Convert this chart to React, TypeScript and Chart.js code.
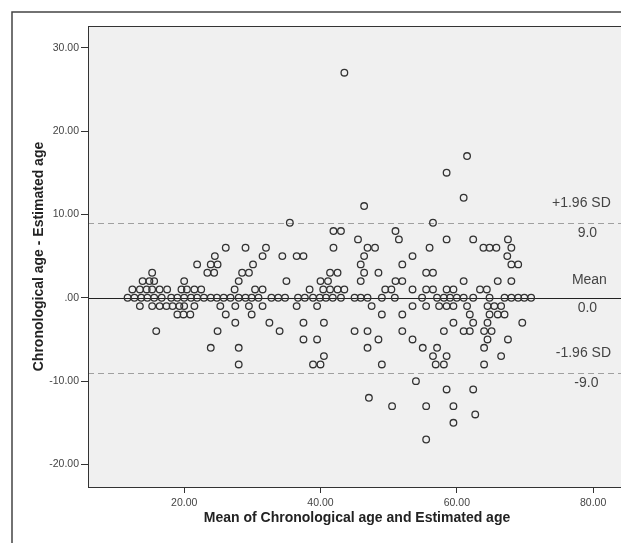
import React, { useEffect, useRef } from "react";
import { Chart, registerables } from "chart.js";

Chart.register(...registerables);

// ---- Data ----
const xTickValues = [20, 40, 60, 80];
const yTickValues = [-20, -10, 0, 10, 20, 30];

const meanDifference = 0.0;
const upperLimit = 9.0;
const lowerLimit = -9.0;

// Difference levels (Chronological age - Estimated age)
const diffLevels = [27, 17, 15, 12, 11, 9, 8, 7, 6, 5, 4, 3, 2, 1, 0, -1, -2, -3, -4, -5, -6, -7, -8, -10, -11, -12, -13, -14, -15, -17];

// Mean of chronological and estimated age, one list per difference level
const meansAt27 = [43.5];
const meansAt17 = [61.5];
const meansAt15 = [58.5];
const meansAt12 = [61.0];
const meansAt11 = [46.4];
const meansAt9 = [35.5, 56.5];
const meansAt8 = [41.9, 43.0, 51.0];
const meansAt7 = [45.5, 51.5, 58.5, 62.4, 67.5];
const meansAt6 = [26.1, 29.0, 32.0, 41.9, 46.9, 48.0, 56.0, 63.9, 64.8, 65.8, 68.0];
const meansAt5 = [24.5, 31.5, 34.4, 36.5, 37.5, 46.4, 53.5, 67.4];
const meansAt4 = [21.9, 23.9, 24.9, 30.1, 45.9, 52.0, 68.0, 69.0];
const meansAt3 = [15.3, 23.4, 24.4, 28.5, 29.5, 41.4, 42.5, 46.4, 48.5, 55.5, 56.5];
const meansAt2 = [13.9, 14.9, 15.6, 20.0, 28.0, 35.0, 40.0, 41.1, 45.9, 51.0, 52.0, 61.0, 66.0, 68.0];
const meansAt1 = [12.4, 13.5, 14.5, 15.3, 16.4, 17.5, 19.6, 20.4, 21.5, 22.5, 27.4, 30.4, 31.5, 38.4, 40.4, 41.4, 42.5, 43.5, 49.5, 50.4, 53.5, 55.5, 56.5, 58.5, 59.5, 63.4, 64.4];
const meansAt0 = [11.7, 12.7, 13.7, 14.6, 15.6, 16.7, 18.1, 19.0, 20.0, 21.0, 21.9, 22.9, 23.9, 24.8, 25.8, 26.8, 28.0, 29.0, 29.9, 30.9, 32.8, 33.8, 34.8, 36.7, 37.7, 38.9, 39.9, 40.8, 41.8, 43.0, 45.0, 45.9, 46.9, 49.0, 50.9, 54.9, 57.1, 58.1, 59.0, 60.0, 61.0, 62.4, 64.8, 67.0, 68.0, 69.0, 69.9, 70.9];
const meansAtM1 = [13.5, 15.3, 16.4, 17.4, 18.3, 19.3, 20.0, 21.5, 25.3, 27.5, 29.5, 31.5, 36.5, 39.5, 47.5, 53.5, 55.5, 57.4, 58.5, 59.5, 61.5, 64.5, 65.5, 66.5];
const meansAtM2 = [19.0, 19.9, 20.9, 26.1, 29.9, 49.0, 52.0, 61.9, 64.8, 66.0, 67.0];
const meansAtM3 = [27.5, 32.5, 37.5, 40.5, 59.5, 62.4, 64.5, 69.6];
const meansAtM4 = [15.9, 24.9, 34.0, 45.0, 46.9, 52.0, 58.1, 61.0, 61.9, 64.0, 65.1];
const meansAtM5 = [37.5, 39.5, 48.5, 53.5, 64.5, 67.5];
const meansAtM6 = [23.9, 28.0, 46.9, 55.0, 57.1, 64.0];
const meansAtM7 = [40.5, 56.5, 58.5, 66.5];
const meansAtM8 = [28.0, 38.9, 40.0, 49.0, 56.9, 58.1, 64.0];
const meansAtM10 = [54.0];
const meansAtM11 = [58.5, 62.4];
const meansAtM12 = [47.1];
const meansAtM13 = [50.5, 55.5, 59.5];
const meansAtM14 = [62.7];
const meansAtM15 = [59.5];
const meansAtM17 = [55.5];

const meansByLevel = [
  meansAt27, meansAt17, meansAt15, meansAt12, meansAt11, meansAt9, meansAt8, meansAt7,
  meansAt6, meansAt5, meansAt4, meansAt3, meansAt2, meansAt1, meansAt0, meansAtM1,
  meansAtM2, meansAtM3, meansAtM4, meansAtM5, meansAtM6, meansAtM7, meansAtM8,
  meansAtM10, meansAtM11, meansAtM12, meansAtM13, meansAtM14, meansAtM15, meansAtM17,
];

const xTitle = "Mean of Chronological age and Estimated age";
const yTitle = "Chronological age - Estimated age";
const upperName = "+1.96 SD";
const meanName = "Mean";
const lowerName = "-1.96 SD";

const FONT = "Arial, 'Liberation Sans', sans-serif";

export default function App() {
  const ref = useRef<HTMLCanvasElement | null>(null);

  useEffect(() => {
    document.body.style.margin = "0";
    const canvas = ref.current;
    if (!canvas) return;

    const points: { x: number; y: number }[] = [];
    diffLevels.forEach((d, i) => {
      meansByLevel[i].forEach((m) => points.push({ x: m, y: d }));
    });

    const decor = {
      id: "decor",
      beforeDraw(chart: any) {
        const { ctx, chartArea: a } = chart;
        ctx.save();
        ctx.fillStyle = "#ffffff";
        ctx.fillRect(0, 0, chart.width, chart.height);
        ctx.fillStyle = "#f0f0f0";
        ctx.fillRect(a.left, a.top, a.right - a.left, a.bottom - a.top);
        // outer frame
        ctx.strokeStyle = "#444";
        ctx.lineWidth = 1.5;
        ctx.beginPath();
        ctx.moveTo(12, chart.height);
        ctx.lineTo(12, 12);
        ctx.lineTo(chart.width, 12);
        ctx.stroke();
        ctx.restore();
      },
      beforeDatasetsDraw(chart: any) {
        const { ctx, chartArea: a, scales } = chart;
        const ys = scales.y;
        ctx.save();
        ctx.lineWidth = 1;
        ctx.strokeStyle = "#a0a0a0";
        ctx.setLineDash([6, 4]);
        [upperLimit, lowerLimit].forEach((v) => {
          const py = Math.round(ys.getPixelForValue(v)) + 0.5;
          ctx.beginPath();
          ctx.moveTo(a.left, py);
          ctx.lineTo(a.right, py);
          ctx.stroke();
        });
        ctx.setLineDash([]);
        ctx.strokeStyle = "#222";
        const pm = Math.round(ys.getPixelForValue(meanDifference)) + 0.5;
        ctx.beginPath();
        ctx.moveTo(a.left, pm);
        ctx.lineTo(a.right, pm);
        ctx.stroke();
        ctx.restore();
      },
      afterDraw(chart: any) {
        const { ctx, chartArea: a, scales } = chart;
        const ys = scales.y;
        ctx.save();
        // plot border
        ctx.strokeStyle = "#333";
        ctx.lineWidth = 1;
        ctx.strokeRect(a.left + 0.5, a.top + 0.5, a.right - a.left, a.bottom - a.top);

        // reference line labels
        const cx = a.right - 38;
        ctx.fillStyle = "#444";
        ctx.font = `14px ${FONT}`;
        ctx.textAlign = "center";
        ctx.textBaseline = "middle";
        const pu = ys.getPixelForValue(upperLimit);
        const p0 = ys.getPixelForValue(meanDifference);
        const pl = ys.getPixelForValue(lowerLimit);
        ctx.fillText(upperName, cx - 6, pu - 20);
        ctx.fillText(upperLimit.toFixed(1), cx, pu + 10);
        ctx.fillText(meanName, cx + 2, p0 - 18);
        ctx.fillText(meanDifference.toFixed(1), cx, p0 + 10);
        ctx.fillText(lowerName, cx - 4, pl - 20);
        ctx.fillText(lowerLimit.toFixed(1), cx - 1, pl + 10);

        // axis titles
        ctx.fillStyle = "#222";
        ctx.font = `bold 14px ${FONT}`;
        ctx.fillText(xTitle, 357, 518);
        ctx.translate(39, (a.top + a.bottom) / 2);
        ctx.rotate(-Math.PI / 2);
        ctx.fillText(yTitle, 0, 0);
        ctx.restore();
      },
    };

    const chart = new Chart(canvas, {
      type: "scatter",
      data: {
        datasets: [
          {
            data: points,
            pointRadius: 3.3,
            pointHoverRadius: 3.3,
            pointBorderWidth: 1.3,
            borderColor: "#333",
            backgroundColor: "rgba(0,0,0,0)",
            pointStyle: "circle",
          },
        ],
      },
      options: {
        responsive: false,
        animation: false,
        devicePixelRatio: 1,
        layout: { padding: { top: 26, left: 0, right: 0, bottom: 0 } },
        plugins: { legend: { display: false }, tooltip: { enabled: false } },
        scales: {
          x: {
            type: "linear",
            min: 5.89,
            max: 84.73,
            afterFit: (s: any) => {
              s.height = 56;
            },
            afterBuildTicks: (s: any) => {
              s.ticks = xTickValues.map((v) => ({ value: v }));
            },
            grid: { display: true, drawOnChartArea: false, drawTicks: true, tickLength: 6, color: "#333", lineWidth: 1 },
            border: { display: false },
            ticks: {
              font: { family: FONT, size: 10.5 },
              color: "#444",
              padding: 4,
              maxRotation: 0,
              autoSkip: false,
              callback: (v: any) => Number(v).toFixed(2),
            },
          },
          y: {
            type: "linear",
            min: -22.7,
            max: 32.6,
            afterFit: (s: any) => {
              s.width = 88;
            },
            afterBuildTicks: (s: any) => {
              s.ticks = yTickValues.map((v) => ({ value: v }));
            },
            grid: { display: true, drawOnChartArea: false, drawTicks: true, tickLength: 7, color: "#333", lineWidth: 1 },
            border: { display: false },
            ticks: {
              font: { family: FONT, size: 10.5 },
              color: "#444",
              padding: 2,
              autoSkip: false,
              callback: (v: any) => (Number(v) === 0 ? ".00" : Number(v).toFixed(2)),
            },
          },
        },
      },
      plugins: [decor],
    });

    return () => chart.destroy();
  }, []);

  return (
    <div style={{ width: 621, height: 543, overflow: "hidden", position: "relative", background: "#fff" }}>
      <canvas ref={ref} width={630} height={543} style={{ display: "block", width: 630, height: 543 }} />
    </div>
  );
}
